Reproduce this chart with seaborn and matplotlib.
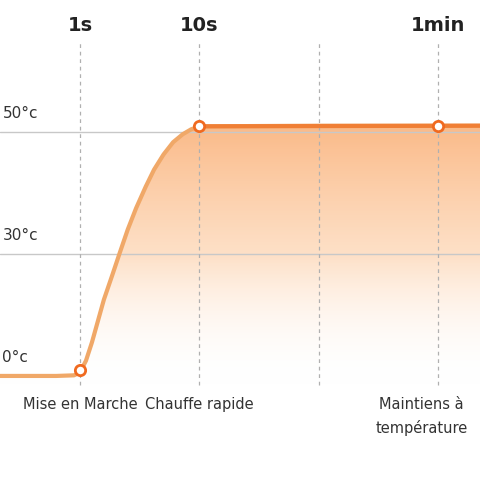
import matplotlib
matplotlib.use("Agg")
import matplotlib.pyplot as plt
import seaborn as sns
import numpy as np
import pandas as pd
from matplotlib.path import Path
from matplotlib.patches import PathPatch

curve_x = [0.33, 0.8, 0.95, 1.0, 1.05, 1.1, 1.15, 1.2, 1.27, 1.33, 1.4, 1.47, 1.55, 1.62, 1.7, 1.78, 1.86, 1.93, 2.0, 3.0, 4.0, 4.35]
curve_y = [10.0, 10.0, 10.1, 10.6, 12.5, 15.5, 19.0, 22.5, 26.5, 30.0, 34.0, 37.5, 41.0, 43.8, 46.3, 48.3, 49.6, 50.4, 50.9, 51.0, 51.0, 51.0]
marker_x = [1.0, 2.0, 4.0]
marker_y = [11.0, 50.9, 50.9]
vlines_x = [1, 2, 3, 4]
top_labels = {1: "1s", 2: "10s", 4: "1min"}
bottom_labels = {1: "Mise en Marche", 2: "Chauffe rapide", 3.86: "Maintiens à\ntempérature"}
temp_levels = [50, 30]
temp_labels = {53.0: "50°c", 33.0: "30°c", 13.0: "0°c"}

sns.set_style("white")
fig = plt.figure(figsize=(4.8, 4.8), dpi=100)
ax = fig.add_axes([0, 0, 1, 1])
ax.set_xlim(0.33, 4.35)
ax.set_ylim(-7.05, 71.6)
ax.axis("off")

for y in temp_levels:
    ax.axhline(y, color="#c8c8c8", lw=1)
for x in vlines_x:
    ax.plot([x, x], [8.5, 65], color="#b0b0b0", lw=0.9, ls=(0, (3, 3)))

verts = list(zip(curve_x, curve_y)) + [(4.35, 8.5), (0.33, 8.5)]
patch = PathPatch(Path(verts), facecolor="none", edgecolor="none")
ax.add_patch(patch)
grad = np.linspace(0, 1, 256).reshape(-1, 1)
cmap = matplotlib.colors.LinearSegmentedColormap.from_list(
    "g", [(1, 1, 1, 0), (0.99, 0.78, 0.6, 0.55), (0.98, 0.68, 0.45, 0.85)])
im = ax.imshow(grad, extent=[0.33, 4.35, 8.5, 51], origin="lower",
               cmap=cmap, aspect="auto", zorder=1)
im.set_clip_path(patch)

df = pd.DataFrame({"x": curve_x, "y": curve_y})
sns.lineplot(data=df, x="x", y="y", ax=ax, color="#f0a868", lw=3, zorder=3, sort=False)
ax.plot([2.0, 4.35], [50.9, 51.0], color="#f07f35", lw=3, zorder=3)
ax.scatter(marker_x, marker_y, s=55, facecolor="white", edgecolor="#f06a20",
           lw=2, zorder=5)

for x, t in top_labels.items():
    ax.text(x, 67.5, t, ha="center", va="center", fontsize=14, fontweight="bold", color="#222222")
for x, t in bottom_labels.items():
    ax.text(x, 6.5, t, ha="center", va="top", fontsize=10.5, color="#333333", linespacing=1.6)
for y, t in temp_labels.items():
    ax.text(0.33 + 0.02, y, t, ha="left", va="center", fontsize=11, color="#333333")
ax.set_xlabel(""); ax.set_ylabel("")
fig.savefig("out.png", dpi=100)
